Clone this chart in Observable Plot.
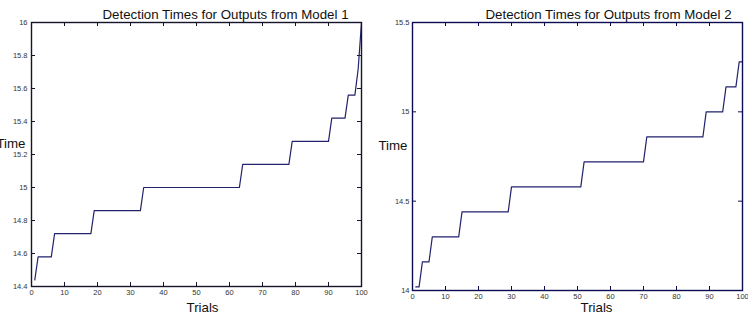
<!DOCTYPE html>
<html>
<head>
<meta charset="utf-8">
<script src="https://cdn.jsdelivr.net/npm/d3@7"></script>
<script src="https://cdn.jsdelivr.net/npm/@observablehq/plot@0.6"></script>
<style>
  body { margin: 0; background: #fff; }
  #charts { display: flex; width: 748px; height: 320px; }
  #charts svg { overflow: visible; display: block; }
</style>
</head>
<body>
<div id="charts"></div>
<script>
// Step levels: each entry gives the first trial at which a new detection time applies.
const model1StepTrials = [1, 2, 7, 19, 34, 64, 79, 91, 96, 99, 100];
const model1StepTimes  = [14.44, 14.58, 14.72, 14.86, 15.0, 15.14, 15.28, 15.42, 15.56, 15.72, 16.0];

const model2StepTrials = [1, 3, 6, 15, 30, 52, 71, 89, 95, 99];
const model2StepTimes  = [14.02, 14.16, 14.30, 14.44, 14.58, 14.72, 14.86, 15.0, 15.14, 15.28];

const trialCount = 100;

const xTickValues = [0, 10, 20, 30, 40, 50, 60, 70, 80, 90, 100];
const model1YTicks = [14.4, 14.6, 14.8, 15, 15.2, 15.4, 15.6, 15.8, 16];
const model2YTicks = [14, 14.5, 15, 15.5];

const model1Title = "Detection Times for Outputs from Model 1";
const model2Title = "Detection Times for Outputs from Model 2";
const xLabel = "Trials";
const yLabel = "Time";

// Expand the step levels into one detection time per trial.
function expandSteps(stepTrials, stepTimes) {
  const rows = [];
  let k = 0;
  for (let t = 1; t <= trialCount; t++) {
    while (k + 1 < stepTrials.length && stepTrials[k + 1] <= t) k++;
    rows.push({trial: t, time: stepTimes[k]});
  }
  return rows;
}

const font = "'Liberation Sans', Arial, Helvetica, sans-serif";
const plainNumber = d => `${+d.toFixed(6)}`;

function panel({rows, yDomain, yTicks, title, width, margins, frameColor, titleDx, xLabelDx, xLabelDy, yLabelDx, yTickPad}) {
  const [mt, mr, mb, ml] = margins;
  const height = 320;
  const frameW = width - ml - mr;
  const frameH = height - mt - mb;
  const tick = 4;
  return Plot.plot({
    width, height,
    marginTop: mt, marginRight: mr, marginBottom: mb, marginLeft: ml,
    style: {fontFamily: font, background: "transparent", color: "#333"},
    x: {domain: [0, 100], ticks: xTickValues},
    y: {domain: yDomain, ticks: yTicks},
    marks: [
      Plot.axisX(xTickValues, {tickSize: 0, tickPadding: 3, fontSize: 7.5, label: null, tickFormat: plainNumber}),
      Plot.axisY(yTicks, {tickSize: 0, tickPadding: yTickPad, fontSize: 7.5, label: null, tickFormat: plainNumber}),
      // inward tick marks on all four sides
      Plot.tickX(xTickValues, {x: d => d, insetTop: frameH - tick, stroke: frameColor}),
      Plot.tickX(xTickValues, {x: d => d, insetBottom: frameH - tick, stroke: frameColor}),
      Plot.tickY(yTicks, {y: d => d, insetRight: frameW - tick, stroke: frameColor}),
      Plot.tickY(yTicks, {y: d => d, insetLeft: frameW - tick, stroke: frameColor}),
      Plot.line(rows, {x: "trial", y: "time", stroke: "#22226e", strokeWidth: 1.2}),
      Plot.frame({stroke: frameColor, strokeWidth: 1.4}),
      Plot.text([title], {frameAnchor: "top", text: d => d, dx: titleDx, dy: -13, fontSize: 13.3, fill: "#111"}),
      Plot.text([xLabel], {frameAnchor: "bottom", text: d => d, dx: xLabelDx, dy: xLabelDy, fontSize: 13.3, fill: "#111"}),
      Plot.text([yLabel], {frameAnchor: "left", text: d => d, textAnchor: "end", dx: yLabelDx, dy: -11, fontSize: 13.3, fill: "#111"})
    ]
  });
}

const container = document.getElementById("charts");

container.append(panel({
  rows: expandSteps(model1StepTrials, model1StepTimes),
  yDomain: [14.4, 16],
  yTicks: model1YTicks,
  title: model1Title,
  width: 370,
  margins: [22, 9, 34, 31],
  frameColor: "#14142a",
  titleDx: 29,
  xLabelDx: 6,
  xLabelDy: 25,
  yLabelDx: -6,
  yTickPad: 4
}));

container.append(panel({
  rows: expandSteps(model2StepTrials, model2StepTimes),
  yDomain: [14, 15.5],
  yTicks: model2YTicks,
  title: model2Title,
  width: 378,
  margins: [22, 6, 30, 42],
  frameColor: "#0c0c52",
  titleDx: 31,
  xLabelDx: 19,
  xLabelDy: 21,
  yLabelDx: -5,
  yTickPad: 3
}));
</script>
</body>
</html>
